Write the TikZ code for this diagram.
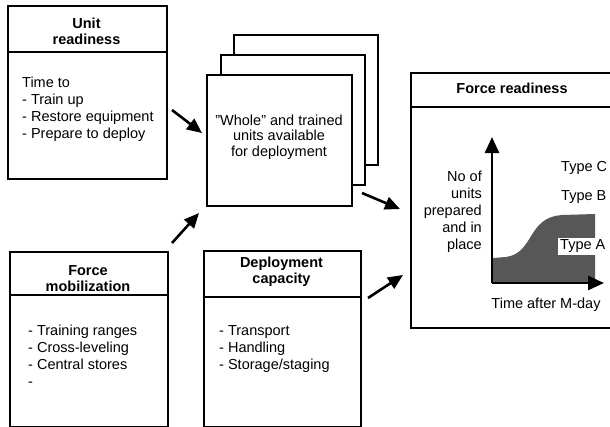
\documentclass[tikz,border=0pt]{standalone}
\usepackage{fontspec}
\setmainfont{Liberation Sans}
\usetikzlibrary{arrows.meta}
\begin{document}
\begin{tikzpicture}[x=1pt,y=-1pt,
  frame/.style={draw, line width=1.6pt, fill=white, inner sep=0pt, anchor=north west},
  rule/.style={line width=1.4pt},
  title/.style={font=\fontsize{14.5}{16}\selectfont\bfseries, align=center, inner sep=0pt},
  body/.style={font=\fontsize{14.5}{17}\selectfont, align=left, inner sep=0pt, anchor=north west},
  flow/.style={line width=2.6pt, -{Triangle[length=15pt,width=13pt]}},
  axis/.style={line width=2.4pt, -{Triangle[length=16pt,width=14pt]}},
  label/.style={font=\fontsize{14.5}{17}\selectfont, inner sep=0pt}]
\useasboundingbox (0,0) rectangle (610,426);

% Unit readiness
\node[frame, minimum width=159pt, minimum height=173pt] (unit) at (7,5) {};
\draw[rule] (7,52) -- (166,52);
\node[title] (unittitle) at (86.5,31) {Unit\\readiness};
\node[body] (unitbody) at (22,77) {Time to\\- Train up\\- Restore equipment\\- Prepare to deploy};

% Force mobilization
\node[frame, minimum width=158pt, minimum height=175pt] (mob) at (9,251) {};
\draw[rule] (9,295) -- (167,295);
\node[title] (mobtitle) at (88,279) {Force\\mobilization};
\node[body] (mobbody) at (28,325) {- Training ranges\\- Cross-leveling\\- Central stores\\-};

% Deployment capacity
\node[frame, minimum width=157pt, minimum height=176pt] (dep) at (203,250) {};
\draw[rule] (203,297) -- (360,297);
\node[title] (deptitle) at (281.5,272) {Deployment\\capacity};
\node[body] (depbody) at (219,325) {- Transport\\- Handling\\- Storage/staging};

% Stack of unit sheets
\node[frame, minimum width=144pt, minimum height=130pt] (back) at (233,34) {};
\node[frame, minimum width=144pt, minimum height=130pt] (mid) at (220,54) {};
\node[frame, minimum width=145pt, minimum height=131pt] (front) at (206,74) {};
\node[font=\fontsize{14.5}{15.5}\selectfont, align=center, inner sep=0pt] (fronttext) at (279,137)
  {\char34 Whole\char34{} and trained\\units available\\for deployment};

% Force readiness
\node[frame, minimum width=210pt, minimum height=255pt] (ready) at (410,72) {};
\draw[rule] (410,107) -- (620,107);
\node[title] (readytitle) at (512,88) {Force readiness};

% Readiness curve
\coordinate (origin) at (492,283);
\coordinate (ytip) at (492,137);
\coordinate (xtip) at (604,283);
\fill[black!66] (493,283) -- (493,258) -- (506,257)
  .. controls (520,255) and (525,246) .. (533,233)
  .. controls (540,222) and (548,216) .. (562,215)
  -- (595,214) -- (595,283) -- cycle;
\node[label, fill=white, anchor=west, inner xsep=2pt, inner ysep=2.5pt] (typea) at (558,246.5) {Type A};
\draw[axis] (origin) -- (ytip);
\draw[axis] (origin) -- (xtip);
\node[label, anchor=west] (typeb) at (561,197) {Type B};
\node[label, anchor=west] (typec) at (561,168) {Type C};
\node[label, anchor=north] (xlabel) at (546,298) {Time after M-day};
\node[label, align=right, anchor=north east] (ylabel) at (482,171) {No of\\units\\prepared\\and in\\place};

% Flow arrows
\coordinate (a1s) at (172,110);
\coordinate (a1e) at (202,133);
\coordinate (a2s) at (172,243);
\coordinate (a2e) at (199,213);
\coordinate (a3s) at (362,193);
\coordinate (a3e) at (400,209);
\coordinate (a4s) at (368,298);
\coordinate (a4e) at (403,275);
\draw[flow] (a1s) -- (a1e);
\draw[flow] (a2s) -- (a2e);
\draw[flow] (a3s) -- (a3e);
\draw[flow] (a4s) -- (a4e);
\end{tikzpicture}
\end{document}
